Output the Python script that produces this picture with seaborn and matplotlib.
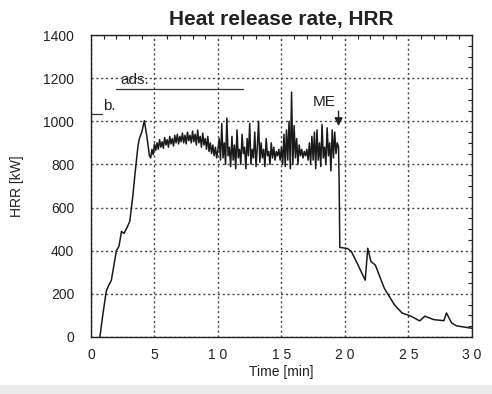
import numpy as np
import pandas as pd
import matplotlib
matplotlib.use("Agg")
import matplotlib.pyplot as plt
import seaborn as sns
from matplotlib.ticker import MultipleLocator
from matplotlib.patches import Rectangle

sns.set_theme(style="white")
plt.rcParams['font.family'] = ['Liberation Sans', 'DejaVu Sans']

# --- data ---
t_rise = [0.7, 0.9, 1.2, 1.4, 1.6, 1.8, 2.0, 2.2, 2.4, 2.6, 2.8, 3.05, 3.3, 3.45, 3.7, 3.8, 4.0, 4.2, 4.4, 4.6]
h_rise = [0, 90, 212, 240, 262, 330, 400, 420, 489, 480, 503, 535, 656, 748, 886, 918, 950, 1003, 930, 841]

t_mid = [round(4.7 + 0.1 * i, 1) for i in range(54)]
h_mid = [830, 870, 845, 895, 865, 900, 870, 915, 880, 905,
         875, 925, 890, 915, 880, 930, 895, 920, 885, 935,
         900, 940, 895, 930, 905, 945, 900, 935, 895, 950,
         910, 935, 900, 955, 905, 940, 890, 960, 900, 930,
         880, 945, 890, 920, 870, 930, 860, 900, 850, 890,
         840, 880, 830, 870]

t_noisy = [round(10.1 + 0.1 * i, 1) for i in range(95)]
h_noisy = [920, 820, 990, 830, 900, 800, 1015, 840, 880, 790,
           930, 820, 890, 780, 960, 830, 870, 800, 940, 850,
           880, 780, 920, 840, 990, 800, 870, 830, 950, 790,
           880, 1000, 810, 900, 830, 870, 790, 920, 840, 860,
           800, 900, 830, 880, 820, 860, 840, 870, 820, 880,
           800, 940, 790, 960, 820, 1000, 780, 1135, 800, 980,
           830, 920, 800, 890, 840, 870, 830, 860, 840, 870,
           820, 900, 800, 930, 820, 950, 780, 960, 820, 900,
           790, 985, 830, 880, 800, 970, 840, 900, 770, 960,
           830, 950, 850, 900, 880]

t_decay = [19.55, 19.6, 20.2, 20.5, 20.9, 21.4, 21.6, 21.8, 22.05, 22.4, 23.1, 23.9, 24.5,
           25.2, 25.9, 26.3, 27.0, 27.8, 28.0, 28.4, 28.8, 29.8, 30.0]
h_decay = [700, 415, 410, 397, 350, 287, 263, 411, 350, 333, 226, 149, 111,
           96, 74, 96, 80, 75, 111, 65, 51, 42, 40]

x_ticks = [0, 5, 10, 15, 20, 25, 30]
x_labels = ["0", "5", "1 0", "1 5", "2 0", "2 5", "3 0"]
y_ticks = [0, 200, 400, 600, 800, 1000, 1200, 1400]

df = pd.DataFrame({
    "time": t_rise + t_mid + t_noisy + t_decay,
    "hrr": h_rise + h_mid + h_noisy + h_decay,
})

fig = plt.figure(figsize=(4.92, 3.94), dpi=100)
ax = fig.add_axes([0.185, 0.145, 0.774, 0.766])

sns.lineplot(data=df, x="time", y="hrr", ax=ax, color="#1a1a1a", linewidth=1.1,
             sort=False, estimator=None)

ax.set_xlim(0, 30)
ax.set_ylim(0, 1400)
ax.set_xticks(x_ticks)
ax.set_xticklabels(x_labels)
ax.set_yticks(y_ticks)
ax.xaxis.set_minor_locator(MultipleLocator(1))
ax.yaxis.set_minor_locator(MultipleLocator(50))
ax.tick_params(which="both", direction="in", top=True, right=True, colors="#222222",
               labelcolor="#222222")
ax.tick_params(which="major", length=0, labelsize=10)
ax.tick_params(axis="x", which="major", pad=8)
ax.tick_params(axis="y", which="major", pad=12)
ax.tick_params(which="minor", length=3, width=0.8)
ax.grid(True, which="major", linestyle=(0, (1.5, 2)), color="#444444", linewidth=1.0)
for s in ax.spines.values():
    s.set_color("#222222")
    s.set_linewidth(1.0)

ax.set_xlabel("Time [min]", fontsize=10, labelpad=2, color="#222222")
ax.set_ylabel("HRR [kW]", fontsize=10, labelpad=14, color="#222222")
ax.set_title("Heat release rate, HRR", fontsize=15, fontweight="bold", pad=7, color="#222222")

# annotations
ax.plot([2.0, 12.0], [1149, 1149], color="#333333", linewidth=0.9)
ax.text(2.3, 1158, "ads.", fontsize=11, color="#222222", va="bottom", ha="left")
ax.plot([0.0, 0.9], [1033, 1033], color="#333333", linewidth=0.9)
ax.text(0.95, 1040, "b.", fontsize=11, color="#222222", va="bottom", ha="left")
ax.text(17.5, 1055, "ME", fontsize=11, color="#222222", va="bottom", ha="left")
ax.annotate("", xy=(19.5, 965), xytext=(19.5, 1060),
            arrowprops=dict(arrowstyle="-|>", color="#222222", lw=1.0, mutation_scale=12))

fig.patches.append(Rectangle((0, 0), 1, 0.022, transform=fig.transFigure,
                             facecolor="#ebebeb", edgecolor="none", zorder=-1))

fig.savefig("out.png", dpi=100)
